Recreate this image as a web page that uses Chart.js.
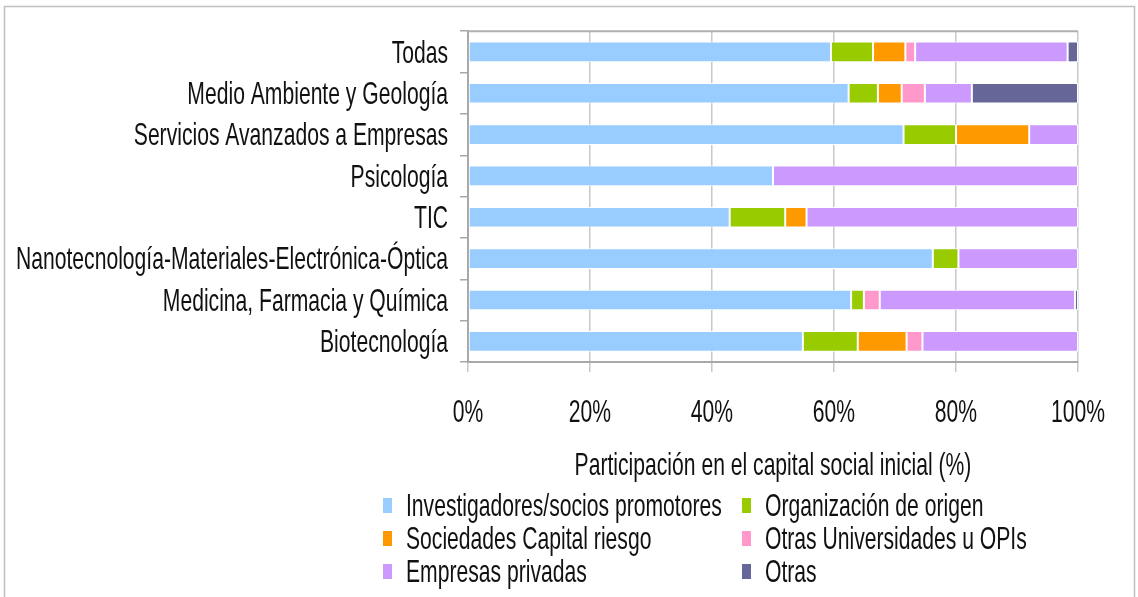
<!DOCTYPE html>
<html>
<head>
<meta charset="utf-8">
<script src="https://cdn.jsdelivr.net/npm/chart.js@4.4.0/dist/chart.umd.min.js"></script>
<style>
  body { margin: 0; background: #fff; }
</style>
</head>
<body>
<canvas id="capitalChart" width="1138" height="597"></canvas>
<script>
var categories = ['Todas', 'Medio Ambiente y Geología', 'Servicios Avanzados a Empresas', 'Psicología', 'TIC',
    'Nanotecnología-Materiales-Electrónica-Óptica', 'Medicina, Farmacia y Química', 'Biotecnología'];

var investigadores = [59.5, 62.4, 71.4, 50.0, 42.9, 76.2, 62.8, 54.9];
var organizacion   = [6.9, 4.8, 8.6, 0, 9.1, 4.2, 2.1, 9.0];
var capitalRiesgo  = [5.3, 3.9, 12.0, 0, 3.5, 0, 0, 8.0];
var otrasUniv      = [1.6, 3.8, 0, 0, 0, 0, 2.6, 2.6];
var empresas       = [25.0, 7.7, 8.0, 50.0, 44.5, 19.6, 32.0, 25.5];
var otras          = [1.7, 17.4, 0, 0, 0, 0, 0.5, 0];

var xTicks = [0, 20, 40, 60, 80, 100];

var FONT = "'Liberation Sans', Arial, sans-serif";
var FONT_SIZE = 32;
var TEXT_SCALE = 0.66;   // letra estrecha tipo Arial Narrow
var plotLeft = 468, plotTop = 31, plotBottom = 362, bottomPad = 107;

// texto comprimido horizontalmente
var proto = CanvasRenderingContext2D.prototype;
var origFill = proto.fillText, origMeasure = proto.measureText;
proto.fillText = function (text, x, y, maxWidth) {
    this.save();
    this.translate(x, this.textBaseline === 'middle' ? y + 2 : y);
    this.scale(TEXT_SCALE, 1);
    if (maxWidth !== undefined) {
        origFill.call(this, text, 0, 0, maxWidth / TEXT_SCALE);
    } else {
        origFill.call(this, text, 0, 0);
    }
    this.restore();
};
proto.measureText = function (text) {
    var m = origMeasure.call(this, text);
    return {
        width: m.width * TEXT_SCALE,
        actualBoundingBoxAscent: m.actualBoundingBoxAscent,
        actualBoundingBoxDescent: m.actualBoundingBoxDescent
    };
};

function ds(label, data, color) {
    return {
        label: label,
        data: data,
        backgroundColor: color,
        borderColor: '#ffffff',
        borderWidth: 1,
        borderSkipped: false,
        barPercentage: 0.5,
        categoryPercentage: 1.0
    };
}

// marco exterior, borde superior del area y leyenda en dos columnas
var extras = {
    id: 'extras',
    beforeDraw: function (chart) {
        var ctx = chart.ctx;
        ctx.save();
        ctx.fillStyle = '#fff';
        ctx.fillRect(0, 0, chart.width, chart.height);
        ctx.strokeStyle = '#c0c0c0';
        ctx.lineWidth = 1.5;
        ctx.strokeRect(4.5, 6.5, 1130, 620);
        ctx.restore();
    },
    afterDraw: function (chart) {
        var ctx = chart.ctx;
        var a = chart.chartArea;
        ctx.save();
        ctx.strokeStyle = '#b0b0b0';
        ctx.lineWidth = 2;
        ctx.beginPath();
        ctx.moveTo(a.left, a.top);
        ctx.lineTo(a.right, a.top);
        ctx.stroke();

        var boxX = [383, 742];
        var textX = [406, 765];
        var rows = [505, 538, 571];
        ctx.font = FONT_SIZE + 'px ' + FONT;
        ctx.textBaseline = 'middle';
        chart.data.datasets.forEach(function (d, i) {
            var c = i % 2, y = rows[Math.floor(i / 2)];
            ctx.fillStyle = d.backgroundColor;
            ctx.fillRect(boxX[c], y - 7, 9, 15);
            ctx.fillStyle = '#111';
            ctx.fillText(d.label, textX[c], y);
        });
        ctx.restore();
    }
};

new Chart(document.getElementById('capitalChart'), {
    type: 'bar',
    data: {
        labels: categories,
        datasets: [
            ds('Investigadores/socios promotores', investigadores, '#99CCFF'),
            ds('Organización de origen', organizacion, '#99CC00'),
            ds('Sociedades Capital riesgo', capitalRiesgo, '#FF9900'),
            ds('Otras Universidades u OPIs', otrasUniv, '#FF99CC'),
            ds('Empresas privadas', empresas, '#CC99FF'),
            ds('Otras', otras, '#666699')
        ]
    },
    options: {
        indexAxis: 'y',
        responsive: false,
        animation: false,
        layout: { padding: { top: plotTop, right: 60, bottom: bottomPad, left: 0 } },
        plugins: {
            legend: { display: false },
            tooltip: { enabled: false }
        },
        scales: {
            x: {
                stacked: true,
                min: 0,
                max: 100,
                afterBuildTicks: function (scale) {
                    scale.ticks = xTicks.map(function (v) { return { value: v }; });
                },
                afterFit: function (scale) { scale.height = 597 - bottomPad - plotBottom; },
                grid: { color: '#c8c8c8', lineWidth: 1.5, tickLength: 10 },
                border: { color: '#a8a8a8', width: 2 },
                ticks: {
                    padding: 20,
                    maxRotation: 0,
                    color: '#111',
                    font: { family: FONT, size: FONT_SIZE },
                    callback: function (v) { return v + '%'; }
                },
                title: {
                    display: true,
                    text: 'Participación en el capital social inicial (%)',
                    color: '#111',
                    font: { family: FONT, size: FONT_SIZE },
                    padding: { top: 0, bottom: 7 }
                }
            },
            y: {
                stacked: true,
                afterFit: function (scale) { scale.width = plotLeft; },
                grid: { offset: true, drawOnChartArea: false, color: '#a8a8a8', lineWidth: 1.5, tickLength: 8 },
                border: { color: '#a8a8a8', width: 2 },
                ticks: {
                    padding: 12,
                    autoSkip: false,
                    color: '#111',
                    font: { family: FONT, size: FONT_SIZE }
                }
            }
        }
    },
    plugins: [extras]
});
</script>
</body>
</html>
